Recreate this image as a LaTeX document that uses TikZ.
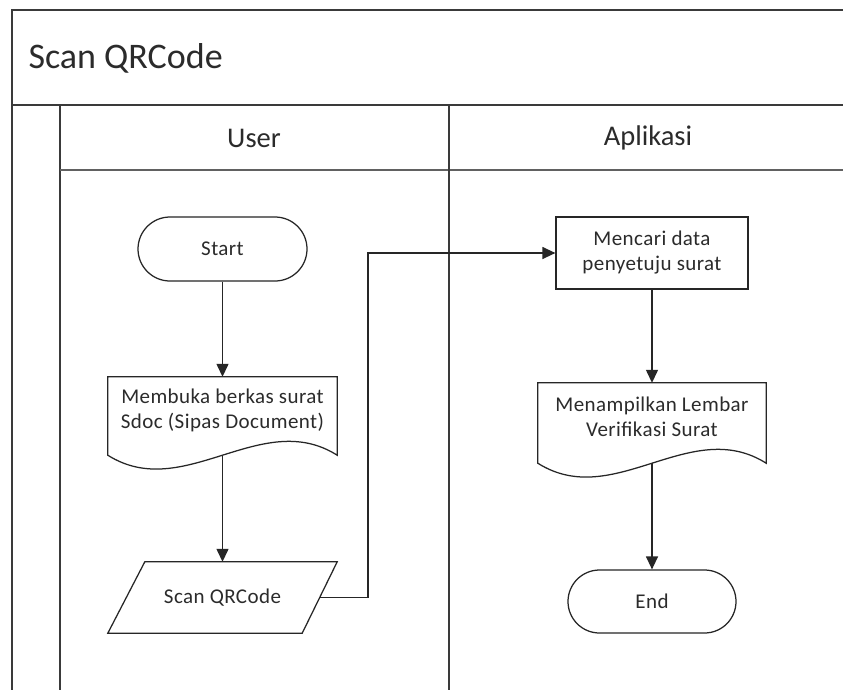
\documentclass[tikz,border=0pt]{standalone}
\usepackage{fontspec}
\setmainfont{Carlito}
\usetikzlibrary{arrows.meta,shapes.misc,calc}
\definecolor{lanecol}{HTML}{3A3A3A}
\definecolor{txtcol}{HTML}{2B2B2B}
\tikzset{
  lane/.style={draw=lanecol,line width=1.5pt},
  shp/.style={draw=black!85,line width=1.25pt},
  term/.style={rounded rectangle,shp,fill=white,minimum width=169pt,minimum height=64pt,inner sep=0pt},
  boxnode/.style={rectangle,shp,fill=white,inner sep=0pt,align=center},
  anchornode/.style={rectangle,inner sep=0pt,align=center},
  ntext/.style={font=\fontsize{21}{25}\selectfont\addfontfeatures{LetterSpace=2}},
  flow/.style={draw=black!85,line width=1.3pt,-{Triangle[length=13pt,width=12pt]}},
}
\begin{document}
\begin{tikzpicture}[x=1pt,y=-1pt]
\useasboundingbox (0,0) rectangle (843,694);
\fill[white] (0,0) rectangle (843,694);
% pool and lanes
\draw[lane] (843,10) -- (12,10) -- (12,690);
\draw[lane] (12,105) -- (843,105);
\draw[lane] (60,105) -- (60,690);
\draw[lane,draw=lanecol!80] (60,170) -- (843,170);
\draw[lane] (449,105) -- (449,690);
\node[anchor=west,font=\fontsize{36}{40}\selectfont,text=txtcol] (title) at (25,58) {Scan QRCode};
\node[font=\fontsize{28.5}{32}\selectfont,text=txtcol] (userh) at (254,138) {User};
\node[font=\fontsize{28.5}{32}\selectfont,text=txtcol] (apph) at (648,138) {Aplikasi};
% nodes
\node[term,ntext,text=txtcol] (start) at (222.5,249) {Start};
\node[anchornode,minimum width=229pt,minimum height=78pt] (doc1) at (222.5,416) {};
\draw[shp,fill=white] (doc1.north west) -- (doc1.north east) -- (doc1.south east)
  .. controls ($(doc1.south east)+(-76,-48)$) and ($(doc1.south west)+(76,48)$) .. (doc1.south west) -- cycle;
\node[ntext,text=txtcol,align=center] (doc1t) at ($(doc1.center)+(0,-6)$) {Membuka berkas surat\\Sdoc (Sipas Document)};
\node[anchornode,minimum width=229pt,minimum height=71pt] (scan) at (222.5,597.5) {};
\draw[shp,fill=white] ($(scan.north west)+(37,0)$) -- (scan.north east) -- ($(scan.south east)+(-35,0)$) -- (scan.south west) -- cycle;
\node[ntext,text=txtcol] (scant) at (scan.center) {Scan QRCode};
\coordinate (scanout) at ($(scan.east)+(-17.5,0)$);
\node[boxnode,ntext,text=txtcol,minimum width=192pt,minimum height=72pt] (cari) at (652,253) {Mencari data\\penyetuju surat};
\node[anchornode,minimum width=228pt,minimum height=80pt] (doc2) at (652,423) {};
\draw[shp,fill=white] (doc2.north west) -- (doc2.north east) -- (doc2.south east)
  .. controls ($(doc2.south east)+(-76,-48)$) and ($(doc2.south west)+(76,48)$) .. (doc2.south west) -- cycle;
\node[ntext,text=txtcol,align=center] (doc2t) at ($(doc2.center)+(0,-6)$) {Menampilkan Lembar\\Verifikasi Surat};
\node[term,ntext,text=txtcol,minimum width=168pt,minimum height=63pt] (end) at (652,601.5) {End};
% connectors
\draw[flow] (start.south) -- (doc1.north);
\draw[flow] (doc1.south) -- (scan.north);
\coordinate (bend1) at (368,597.5);
\coordinate (bend2) at (368,253);
\draw[flow] (scanout) -- (bend1) -- (bend2) -- (cari.west);
\draw[flow] (cari.south) -- (doc2.north);
\draw[flow] (doc2.south) -- (end.north);
\end{tikzpicture}
\end{document}
